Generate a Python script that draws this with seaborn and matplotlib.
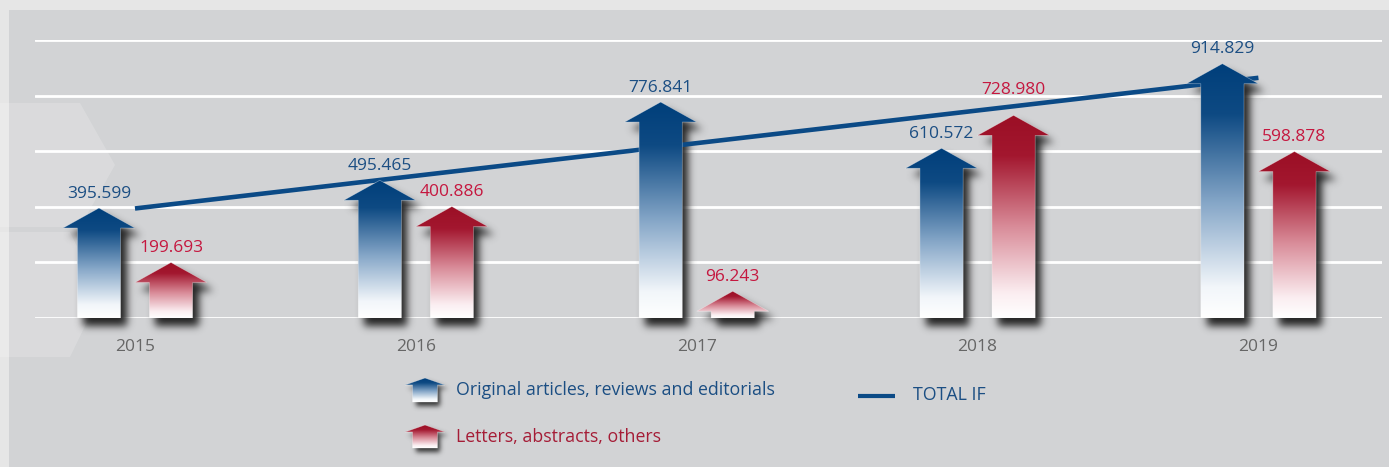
import numpy as np
import pandas as pd
import matplotlib
matplotlib.use("Agg")
import matplotlib.pyplot as plt
import seaborn as sns
from matplotlib.colors import LinearSegmentedColormap
from matplotlib.patches import Polygon, Rectangle
from matplotlib.path import Path

# ---- data -------------------------------------------------------------
years = ["2015", "2016", "2017", "2018", "2019"]
original = [395.599, 495.465, 776.841, 610.572, 914.829]
letters = [199.693, 400.886, 96.243, 728.980, 598.878]
total_if_years = ["2015", "2019"]
total_if = [394, 864]
series_names = ["Original articles, reviews and editorials", "Letters, abstracts, others"]
line_name = "TOTAL IF"

# ---- style ------------------------------------------------------------
W, H, DPI = 1389, 467, 100
BLUE_TXT = "#1b4e83"
RED_TXT = "#c5173f"
RED_LEG = "#a51c36"
LINE_COL = "#0b4a86"
YEAR_COL = "#666666"

sns.set_theme(style="white")
plt.rcParams["font.family"] = ["Open Sans", "DejaVu Sans"]

blue_cmap = LinearSegmentedColormap.from_list(
    "blue_fade",
    [(0.0, "#ffffff"), (0.12, "#f2f6fa"), (0.45, "#86a7c8"),
     (0.80, "#0e4a83"), (1.0, "#003f7b")])
red_cmap = LinearSegmentedColormap.from_list(
    "red_fade",
    [(0.0, "#ffffff"), (0.12, "#fbeef1"), (0.45, "#d98c99"),
     (0.80, "#a3172f"), (1.0, "#9b0f25")])
GRAD = np.linspace(0, 1, 256).reshape(-1, 1)


def arrow_verts(cx, base, tip, head_w, shaft_w, head_h):
    s = np.sign(tip - base)
    sh = tip - s * head_h
    return np.array([
        (cx - shaft_w / 2, base), (cx - shaft_w / 2, sh), (cx - head_w / 2, sh),
        (cx, tip), (cx + head_w / 2, sh), (cx + shaft_w / 2, sh),
        (cx + shaft_w / 2, base)])


def draw_arrow(target, verts, cmap, z):
    x0, x1 = verts[:, 0].min(), verts[:, 0].max()
    base, tip = verts[0, 1], verts[3, 1]
    im = target.imshow(GRAD, extent=[x0, x1, base, tip], origin="lower",
                       cmap=cmap, aspect="auto", interpolation="bilinear",
                       zorder=z)
    poly = Polygon(verts, closed=True, facecolor="none",
                   edgecolor=(1, 1, 1, 0.4), lw=0.5, zorder=z + 0.01)
    target.add_patch(poly)
    im.set_clip_path(poly)


def gblur(a, s):
    r = int(3 * s)
    k = np.exp(-0.5 * (np.arange(-r, r + 1) / s) ** 2)
    k /= k.sum()
    a = np.apply_along_axis(lambda m: np.convolve(m, k, mode="same"), 0, a)
    a = np.apply_along_axis(lambda m: np.convolve(m, k, mode="same"), 1, a)
    return a


def soft_shadow(target, polys, dx, dy, sigma, alpha, z):
    mask = np.zeros((H, W))
    for verts in polys:
        pv = target.transData.transform(verts) + np.array([dx, dy])
        path = Path(pv)
        c0 = max(int(np.floor(pv[:, 0].min())) - 1, 0)
        c1 = min(int(np.ceil(pv[:, 0].max())) + 1, W)
        r0 = max(int(np.floor(pv[:, 1].min())) - 1, 0)
        r1 = min(int(np.ceil(pv[:, 1].max())) + 1, H)
        cc, rr = np.meshgrid(np.arange(c0, c1) + 0.5, np.arange(r0, r1) + 0.5)
        inside = path.contains_points(np.c_[cc.ravel(), rr.ravel()])
        sub = inside.reshape(rr.shape).astype(float)
        mask[r0:r1, c0:c1] = np.maximum(mask[r0:r1, c0:c1], sub)
    mask = gblur(mask, sigma)
    rgba = np.zeros((H, W, 4))
    rgba[..., :3] = 0.14
    rgba[..., 3] = np.clip(mask * alpha, 0, 1)
    inv = target.transData.inverted()
    (xa, ya), (xb, yb) = inv.transform([(0, 0), (W, H)])
    target.imshow(rgba, extent=[xa, xb, ya, yb], origin="lower", aspect="auto",
                  interpolation="bilinear", zorder=z, clip_on=False)


# ---- figure & background ---------------------------------------------
fig = plt.figure(figsize=(W / DPI, H / DPI), dpi=DPI)
fig.patch.set_facecolor("#e6e6e6")

bg = fig.add_axes([0, 0, 1, 1], zorder=0)
bg.set_xlim(0, W)
bg.set_ylim(H, 0)
bg.axis("off")
bg.add_patch(Rectangle((9, 10), W - 9, H - 10, color="#d2d3d5", lw=0, zorder=0))
for hex_pts in ([(-40, 103), (80, 103), (115, 165), (80, 227), (-40, 227)],
                [(-40, 232), (70, 232), (100, 295), (70, 357), (-40, 357)]):
    bg.add_patch(Polygon(hex_pts, closed=True, facecolor="white", alpha=0.18,
                         lw=0, zorder=0.5))

# ---- main chart -------------------------------------------------------
ax = fig.add_axes([35 / W, 1 - 318 / H, (1382 - 35) / W, (318 - 40) / H], zorder=1)
ax.patch.set_alpha(0)

df = pd.DataFrame({
    "year": years * 2,
    "value": original + letters,
    "series": [series_names[0]] * len(years) + [series_names[1]] * len(years),
})
sns.barplot(data=df, x="year", y="value", hue="series", hue_order=series_names,
            width=0.513, palette=["#003f7b", "#9b0f25"], saturation=1,
            legend=False, ax=ax)

XLIM = (-0.356, 4.44)
YLIM = (0, 1000)
ax.set_xlim(*XLIM)
ax.set_ylim(*YLIM)

HEAD_H = 72          # arrow head height in value units
SHAFT = 0.6          # shaft width relative to head width
label_nudge = {("2018", 1): 8}

arrow_polys = []
for bar in list(ax.patches):
    x0, w, h = bar.get_x(), bar.get_width(), bar.get_height()
    bar.set_visible(False)
    cx = x0 + w / 2
    idx = int(round(cx))
    k = 0 if cx < idx else 1
    verts = arrow_verts(cx, 0, h, w, w * SHAFT, HEAD_H)
    arrow_polys.append(verts)
    draw_arrow(ax, verts, blue_cmap if k == 0 else red_cmap, 3)
    ax.annotate(f"{h:.3f}", (cx, h),
                xytext=(0, 4.5 + label_nudge.get((years[idx], k), 0)),
                textcoords="offset points", ha="center", va="bottom",
                fontsize=12.5, color=BLUE_TXT if k == 0 else RED_TXT,
                annotation_clip=False, zorder=5)

line_df = pd.DataFrame({"pos": [years.index(y) for y in total_if_years],
                        "value": total_if})
sns.lineplot(data=line_df, x="pos", y="value", color=LINE_COL, lw=3.3,
             legend=False, ax=ax, zorder=2.7)
ax.lines[-1].set_solid_capstyle("butt")

ax.set_xlim(*XLIM)
ax.set_ylim(*YLIM)
ax.set_xticks(range(len(years)))
ax.set_xticklabels(years)
ax.set_yticks(np.arange(0, 1001, 200))
ax.grid(axis="y", color="white", lw=2)
ax.grid(axis="x", visible=False)
ax.set_axisbelow(True)
ax.tick_params(axis="y", left=False, labelleft=False)
ax.tick_params(axis="x", bottom=False, length=0, pad=15,
               labelsize=12.5, labelcolor=YEAR_COL)
ax.set_xlabel("")
ax.set_ylabel("")
for sp in ax.spines.values():
    sp.set_visible(False)

soft_shadow(ax, arrow_polys, dx=6, dy=-8, sigma=4, alpha=1.0, z=2.5)
ax.set_xlim(*XLIM)
ax.set_ylim(*YLIM)

# ---- legend -----------------------------------------------------------
leg_arrows = [
    (arrow_verts(425, 402, 378, 40, 25, 7), blue_cmap),
    (arrow_verts(425, 448, 425, 40, 25, 7), red_cmap),
]
for verts, cm in leg_arrows:
    draw_arrow(bg, verts, cm, 3)
soft_shadow(bg, [v for v, _ in leg_arrows], dx=3, dy=-4, sigma=2.5,
            alpha=0.9, z=2)
bg.set_xlim(0, W)
bg.set_ylim(H, 0)

bg.text(456, 390, series_names[0], ha="left", va="center", fontsize=12.8,
        color=BLUE_TXT)
bg.text(456, 437, series_names[1], ha="left", va="center", fontsize=12.8,
        color=RED_LEG)
bg.plot([858, 895], [396, 396], color=LINE_COL, lw=3, solid_capstyle="butt")
bg.text(913, 395, line_name, ha="left", va="center", fontsize=12.8,
        color=BLUE_TXT)

fig.savefig("out.png", dpi=DPI, facecolor=fig.get_facecolor())
